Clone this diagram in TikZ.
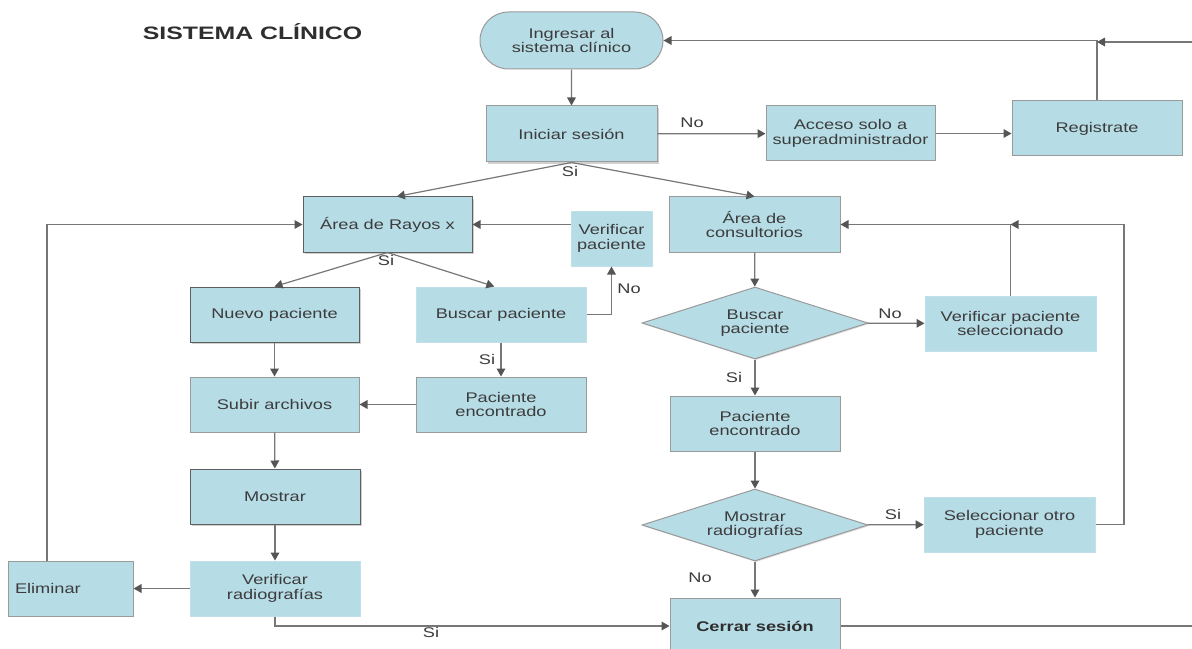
\documentclass[tikz,border=0pt]{standalone}
\usepackage{fontspec}
\setmainfont{Liberation Sans}[FakeStretch=1.3]
\newfontfamily\titlefont{Liberation Sans}[FakeStretch=1.38]
\usetikzlibrary{shapes.geometric,shapes.misc,shadows,arrows.meta}

\definecolor{boxblue}{HTML}{B6DCE6}
\definecolor{edgegray}{HTML}{9A9A9A}
\definecolor{darkedge}{HTML}{5E5E5E}
\definecolor{textgray}{HTML}{3C3C3C}
\definecolor{titlegray}{HTML}{2E2E2E}
\definecolor{linegray}{HTML}{777777}
\definecolor{tipgray}{HTML}{555555}

\tikzset{
  sz/.style 2 args={minimum width=#1*0.75pt, minimum height=#2*0.75pt},
  txt/.style={font=\fontsize{10.5pt}{11pt}\selectfont, text=textgray},
  box/.style={txt, rectangle, fill=boxblue, draw=edgegray, line width=0.75pt,
    align=center, inner sep=0pt},
  plainbox/.style={draw=boxblue!85!white},
  shadowbox/.style={draw=darkedge, drop shadow={shadow xshift=1.2pt,
    shadow yshift=-1.2pt, opacity=0.18, fill=black}},
  decision/.style={txt, diamond, shape aspect=3.14, sz={226}{72}, inner sep=0pt,
    fill=boxblue, draw=edgegray, line width=0.75pt, align=center,
    drop shadow={shadow xshift=0.8pt, shadow yshift=-0.8pt, opacity=0.15, fill=black}},
  conn/.style={draw=linegray, line width=0.9pt,
    -{Triangle[length=6pt, width=6.5pt, color=tipgray]}},
  plainline/.style={draw=linegray, line width=0.9pt},
  lbl/.style={txt, inner sep=0pt}
}

\begin{document}
\begin{tikzpicture}[x=0.75pt, y=-0.75pt]
\useasboundingbox (0,0) rectangle (1192,649);
\clip (0,0) rectangle (1192,649);
\fill[white] (0,0) rectangle (1192,649);

% title
\node[font=\titlefont\bfseries\fontsize{13.5pt}{16pt}\selectfont, text=titlegray]
  (title) at (252.5,32) {SISTEMA CLÍNICO};

% entry and login
\node[box, rounded rectangle, sz={183}{57}] (ing) at (571.5,40.5) {Ingresar al\\sistema clínico};
\node[box, shadowbox, draw=edgegray, sz={171}{56}] (ini) at (571.5,134) {Iniciar sesión};
\node[box, sz={169}{55}] (acc) at (850.5,133.5) {Acceso solo a\\superadministrador};
\node[box, sz={170}{55}] (reg) at (1097,128.5) {Registrate};

% x-ray branch
\node[box, shadowbox, sz={169}{55}] (ray) at (387.5,224.5) {Área de Rayos x};
\node[box, plainbox, sz={81}{55}] (verp) at (611.5,238.5) {Verificar\\paciente};
\node[box, shadowbox, sz={169}{55}] (nuevo) at (274.5,314.5) {Nuevo paciente};
\node[box, plainbox, sz={170}{55}] (busL) at (501,314.5) {Buscar paciente};
\node[box, sz={169}{55}] (subir) at (274.5,404.5) {Subir archivos};
\node[box, sz={170}{55}] (encL) at (501,404.5) {Paciente\\encontrado};
\node[box, shadowbox, sz={170}{55}] (most) at (275,496.5) {Mostrar};
\node[box, plainbox, sz={170}{55}] (vrad) at (275,588.5) {Verificar\\radiografías};
\node[box, sz={125}{55}, align=left, text width=111*0.75pt, inner xsep=7*0.75pt]
  (elim) at (70.5,588.5) {Eliminar};

% consulting-room branch
\node[box, sz={171}{55}] (cons) at (754.5,224.5) {Área de\\consultorios};
\node[decision] (busR) at (755,323) {Buscar\\paciente};
\node[box, plainbox, sz={171}{55}] (vps) at (1010.5,323.5) {Verificar paciente\\seleccionado};
\node[box, sz={170}{55}] (encR) at (755,423.5) {Paciente\\encontrado};
\node[decision] (mrad) at (755,525) {Mostrar\\radiografías};
\node[box, plainbox, sz={171}{55}] (sel) at (1009.5,524.5) {Seleccionar otro\\paciente};
\node[box, sz={170}{56}, font=\fontsize{10.5pt}{11pt}\selectfont\bfseries, text=titlegray]
  (cerr) at (755,626) {Cerrar sesión};

% loose ends running off the sheet
\coordinate (offTop) at (1192,42);
\coordinate (offBot) at (1192,626);
\coordinate (loopR) at (1124,224.5);

% connectors
\draw[conn] (ing) -- (ini);
\draw[conn] (ini) -- (acc);
\draw[conn] (acc.east) -- (acc.east -| reg.west);
\draw[conn] (reg.north) |- (ing.east);
\draw[conn] (offTop) -- (offTop -| reg.north);
\draw[conn] (ini.south) -- ([xshift=7pt]ray.north);
\draw[conn] (ini.south) -- (cons.north);

\draw[conn] (ray.south) -- (nuevo.north);
\draw[conn] (ray.south) -- ([xshift=-5pt]busL.north);
\draw[conn] (busL.east) -| (verp.south);
\draw[conn] (verp.west |- ray.east) -- (ray.east);
\draw[conn] (busL) -- (encL);
\draw[conn] (encL) -- (subir);
\draw[conn] (nuevo) -- (subir);
\draw[conn] (subir) -- (most);
\draw[conn] (most) -- (vrad);
\draw[conn] (vrad) -- (elim);
\draw[conn] ([xshift=-23.5*0.75pt]elim.north) |- (ray.west);
\draw[conn] (vrad.south) |- (cerr.west);

\draw[conn] (cons) -- (busR);
\draw[conn] (busR) -- (vps);
\draw[conn] (vps.north) |- (cons.east);
\draw[conn] (busR) -- (encR);
\draw[conn] (encR) -- (mrad);
\draw[conn] (mrad) -- (sel);
\draw[conn] (sel.east) -| (loopR) -- (loopR -| vps.north);
\draw[conn] (mrad) -- (cerr);
\draw[plainline] (cerr.east) -- (offBot);

% branch labels
\node[lbl] (l1) at (692,123) {No};
\node[lbl] (l2) at (570,171) {Si};
\node[lbl] (l3) at (386,260) {Si};
\node[lbl] (l4) at (629,289) {No};
\node[lbl] (l5) at (487,359) {Si};
\node[lbl] (l6) at (890,314) {No};
\node[lbl] (l7) at (734,377) {Si};
\node[lbl] (l8) at (893,514) {Si};
\node[lbl] (l9) at (700,578) {No};
\node[lbl] (l10) at (431,632) {Si};
\end{tikzpicture}
\end{document}
